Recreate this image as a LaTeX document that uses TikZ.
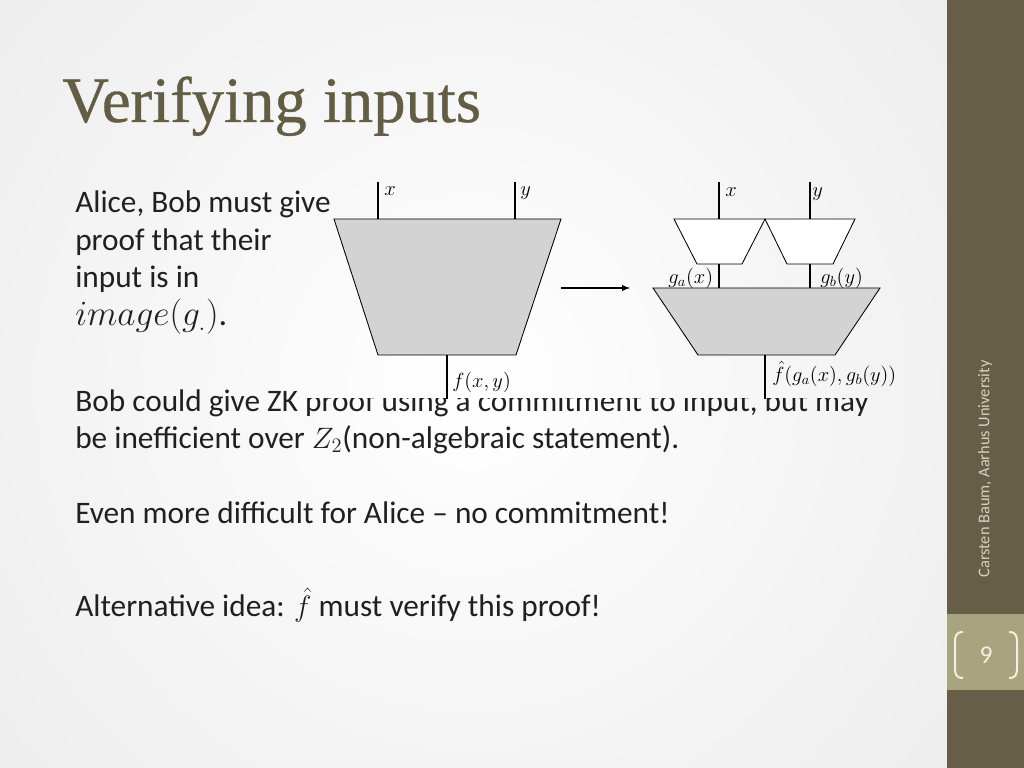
\documentclass[tikz,border=0pt]{standalone}
\usepackage{fontspec}
\setmainfont{Carlito}
\newfontfamily\titleserif[FakeBold=0.6]{Liberation Serif}
\definecolor{sidedark}{RGB}{103,94,72}
\definecolor{sidelight}{RGB}{168,164,128}
\definecolor{titlecol}{RGB}{100,93,70}
\definecolor{bodycol}{RGB}{32,32,32}
\definecolor{footcol}{RGB}{214,208,190}
\definecolor{numcol}{RGB}{245,240,222}
\definecolor{boxgray}{RGB}{211,211,211}
\tikzset{
  body/.style={anchor=base west, inner sep=0pt, text=bodycol, font=\fontsize{22}{26}\selectfont},
  lbl/.style={anchor=base west, inner sep=0pt, font=\fontsize{14}{16}\selectfont},
  wire/.style={line width=0.9pt},
  graybox/.style={draw, line width=0.6pt, fill=boxgray},
  whitebox/.style={draw, line width=0.6pt, fill=white},
  bracket/.style={numcol, line width=1.4pt}
}

\begin{document}
\begin{tikzpicture}[x=0.703125pt,y=-0.703125pt]
\useasboundingbox (0,0) rectangle (1024,768);

%Hintergrund
\begin{scope}
\clip (0,0) rectangle (947,768);
\fill[inner color=white, outer color=black!13] (470,384) circle (1150);
\end{scope}
\fill[sidedark] (947,0) rectangle (1024,768);
\fill[sidelight] (947,614) rectangle (1024,690);

\node[anchor=base west, inner sep=0pt, text=titlecol, font=\titleserif\fontsize{45.5}{50}\selectfont] (title) at (62,122) {Verifying inputs};

%Text hinter dem Bild
\begin{scope}
\clip (0,0) rectangle (300,768) (300,398) rectangle (947,768);
\node[body] (zk1) at (75,411) {Bob could give ZK proof using a commitment to input, but may};
\end{scope}
\node[body] (zk2) at (75,448) {be inefficient over $Z_2$(non-algebraic statement).};

%Bild
\coordinate (xtopL) at (378,182);
\coordinate (xinL) at (378,219);
\coordinate (ytopL) at (515,182);
\coordinate (yinL) at (515,219);
\coordinate (foutL) at (447,355);
\coordinate (fendL) at (447,399);

\draw[graybox] (334,219) -- (561,219) -- (516,355) -- (378,355) -- cycle;
\draw[wire] (xtopL) -- (xinL);
\draw[wire] (ytopL) -- (yinL);
\draw[wire] (foutL) -- (fendL);

\node[lbl] (xlabL) at (384,196) {$x$};
\node[lbl] (ylabL) at (520,196) {$y$};
\node[lbl] (flabL) at (452,387) {$f(x,y)$};

\coordinate (arrL) at (561,288);
\coordinate (arrR) at (630,288);
\draw[wire,-latex] (arrL) -- (arrR);

\coordinate (xtopR) at (719,182);
\coordinate (xinR) at (719,219);
\coordinate (gaout) at (719,264);
\coordinate (gain) at (719,288);
\coordinate (ytopR) at (810,182);
\coordinate (yinR) at (810,219);
\coordinate (gbout) at (810,264);
\coordinate (gbin) at (810,288);
\coordinate (foutR) at (765,355);
\coordinate (fendR) at (765,399);

\draw[whitebox] (674,219) -- (765,219) -- (742,264) -- (697,264) -- cycle;
\draw[whitebox] (765,219) -- (855,219) -- (833,264) -- (787,264) -- cycle;
\draw[graybox] (653,288) -- (880,288) -- (835,355) -- (698,355) -- cycle;
\draw[wire] (xtopR) -- (xinR);
\draw[wire] (ytopR) -- (yinR);
\draw[wire] (gaout) -- (gain);
\draw[wire] (gbout) -- (gbin);
\draw[wire] (foutR) -- (fendR);

\node[lbl] (xlabR) at (725,197) {$x$};
\node[lbl] (ylabR) at (812,197) {$y$};
\node[lbl] (galab) at (668,283) {$g_a(x)$};
\node[lbl] (gblab) at (820,283) {$g_b(y)$};
\node[lbl] (fhatlab) at (772,381) {$\hat{f}(g_a(x),g_b(y))$};

%Text
\node[body] (al1) at (75,213) {Alice, Bob must give};
\node[body] (al2) at (75,251) {proof that their};
\node[body] (al3) at (75,288) {input is in};
\node[body, font=\fontsize{24}{26}\selectfont] (al4) at (75,325) {$image(g_{.})$.};

\node[body] (even) at (75,523) {Even more difficult for Alice -- no commitment!};
\node[body] (alt) at (75,616) {Alternative idea: $\hat{f}$ must verify this proof!};

%Seitenleiste
\node[rotate=90, text=footcol, font=\fontsize{11.5}{13}\selectfont] (author) at (985,469) {Carsten Baum, Aarhus University};
\node[text=numcol, font=\fontsize{18}{20}\selectfont] (pagenum) at (986,655) {9};
\draw[bracket] (963,632) .. controls (956,632) and (955,636) .. (955,642) -- (955,668) .. controls (955,674) and (956,678) .. (963,678);
\draw[bracket] (1009,632) .. controls (1016,632) and (1017,636) .. (1017,642) -- (1017,668) .. controls (1017,674) and (1016,678) .. (1009,678);

\end{tikzpicture}
\end{document}
